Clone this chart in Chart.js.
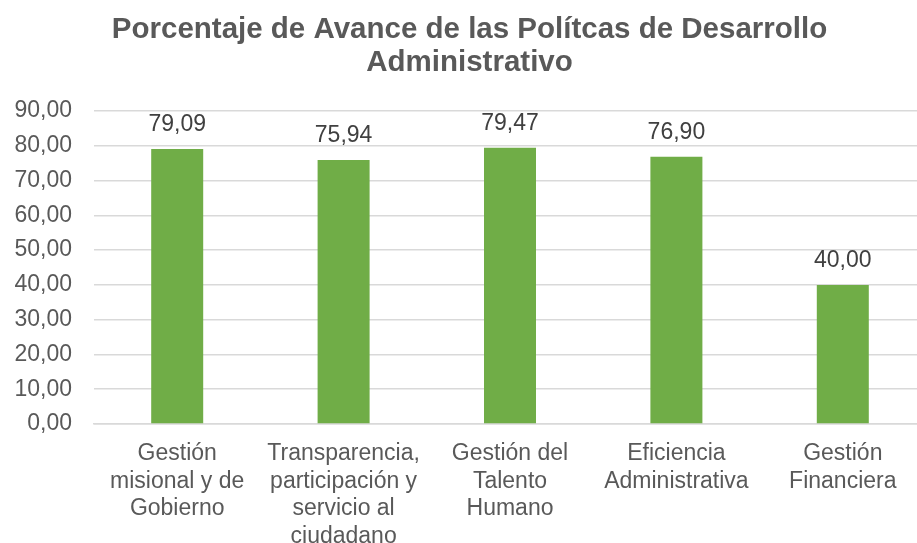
<!DOCTYPE html>
<html>
<head>
<meta charset="utf-8">
<script src="https://cdn.jsdelivr.net/npm/chart.js@4/dist/chart.umd.min.js"></script>
<style>
html,body{margin:0;padding:0;background:#fff;overflow:hidden;}
#wrap{width:917px;height:543px;overflow:hidden;}
canvas{display:block;}
</style>
</head>
<body>
<div id="wrap"><canvas id="c" width="926" height="543"></canvas></div>
<script>
const categories = [
  ["Gestión","misional y de","Gobierno"],
  ["Transparencia,","participación y","servicio al","ciudadano"],
  ["Gestión del","Talento","Humano"],
  ["Eficiencia","Administrativa"],
  ["Gestión","Financiera"]
];
const values = [79.09, 75.94, 79.47, 76.90, 40.00];
const yTicks = [0,10,20,30,40,50,60,70,80,90];
const titleLines = ["Porcentaje de Avance de las Polítcas de Desarrollo","Administrativo"];

const FONT = '"Liberation Sans", Arial, sans-serif';
const fmt = v => v.toFixed(2).replace('.', ',');

const labelPlugin = {
  id: 'valueLabels',
  afterDatasetsDraw(chart) {
    const ctx = chart.ctx;
    const meta = chart.getDatasetMeta(0);
    ctx.save();
    ctx.font = '23px ' + FONT;
    ctx.fillStyle = '#404040';
    ctx.textAlign = 'center';
    ctx.textBaseline = 'alphabetic';
    meta.data.forEach((bar, i) => {
      ctx.fillText(fmt(values[i]), bar.x, bar.y - 18);
    });
    ctx.restore();
  }
};

new Chart(document.getElementById('c'), {
  type: 'bar',
  data: {
    labels: categories,
    datasets: [{
      data: values,
      backgroundColor: '#70AD47',
      borderWidth: 0,
      categoryPercentage: 1,
      barPercentage: 0.3125
    }]
  },
  options: {
    responsive: false,
    animation: false,
    layout: { padding: { left: 13, right: 0, top: 13, bottom: 0 } },
    plugins: {
      legend: { display: false },
      tooltip: { enabled: false },
      title: {
        display: true,
        text: titleLines,
        color: '#595959',
        font: { family: FONT, size: 29.5, weight: 'bold', lineHeight: 1.12 },
        padding: { top: 0, bottom: 32 }
      }
    },
    scales: {
      x: {
        grid: { display: false },
        border: { display: true, color: '#D9D9D9', width: 1.5 },
        afterFit(axis) { axis.height = 119; },
        ticks: {
          color: '#595959',
          font: { family: FONT, size: 23, lineHeight: 1.2 },
          maxRotation: 0, minRotation: 0, autoSkip: false, padding: 8
        }
      },
      y: {
        min: 0, max: 90,
        afterBuildTicks(axis) { axis.ticks = yTicks.map(v => ({ value: v })); },
        afterFit(axis) { axis.width = 81; },
        grid: { color: '#D9D9D9', lineWidth: 1.5, drawTicks: false },
        border: { display: false },
        ticks: {
          color: '#595959',
          font: { family: FONT, size: 23 },
          padding: 22,
          callback: v => fmt(v)
        }
      }
    }
  },
  plugins: [labelPlugin]
});
</script>
</body>
</html>
